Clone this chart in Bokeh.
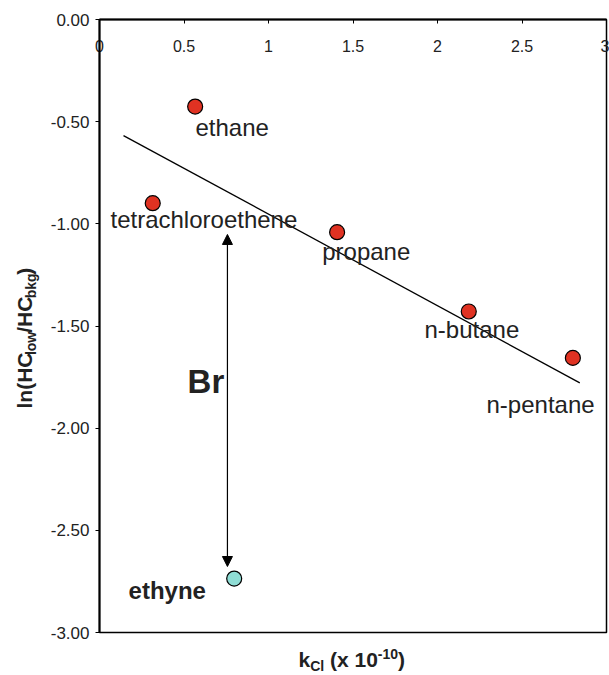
from bokeh.plotting import figure
from bokeh.layouts import row, column
from bokeh.models import Range1d, Label, Arrow, NormalHead, FixedTicker, NumeralTickFormatter, CustomJSTickFormatter
from bokeh.embed import file_html
from bokeh.resources import INLINE

# ---- data ----
compounds = ["ethane", "tetrachloroethene", "propane", "n-butane", "n-pentane", "ethyne"]
k_cl = [0.566, 0.315, 1.406, 2.185, 2.801, 0.797]
ln_ratio = [-0.426, -0.899, -1.041, -1.429, -1.656, -2.736]
fit_x = [0.142, 2.842]
fit_y = [-0.568, -1.778]
br_x = 0.757
br_y = [-1.052, -2.677]
x_ticks = [0, 0.5, 1, 1.5, 2, 2.5, 3]
y_ticks = [0, -0.5, -1, -1.5, -2, -2.5, -3]

# ---- layout (label anchors) ----
label_x = [0.568, 0.065, 1.318, 1.923, 2.290, 0.172]
label_y = [-0.529, -0.980, -1.137, -1.519, -1.886, -2.795]
label_bold = [False, False, False, False, False, True]

FONT = "Liberation Sans"
RED = "#E03222"
CYAN = "#8FDDD5"
TXT = "#222222"
BASE_FIX = 0.35  # baseline correction factor (fraction of font size)

MAIN_H = 643
p = figure(width=569, height=MAIN_H, x_range=Range1d(0, 3), y_range=Range1d(-3, 0),
           x_axis_location="above", output_backend="svg", toolbar_location=None,
           min_border_left=59, min_border_right=3, min_border_top=19,
           min_border_bottom=MAIN_H - 632)
p.background_fill_color = "white"
p.border_fill_color = "white"
p.xgrid.visible = False
p.ygrid.visible = False
p.outline_line_color = "black"
p.outline_line_width = 1.5

xa = p.xaxis[0]
xa.ticker = FixedTicker(ticks=x_ticks)
xa.formatter = CustomJSTickFormatter(code="return tick.toString();")
xa.major_tick_in = 4
xa.major_tick_out = 0
xa.minor_tick_line_color = None
xa.major_label_standoff = -32
xa.axis_line_width = 2
xa.major_label_text_font = FONT
xa.major_label_text_font_size = "16px"
xa.major_label_text_color = TXT

ya = p.yaxis[0]
ya.ticker = FixedTicker(ticks=y_ticks)
ya.formatter = NumeralTickFormatter(format="0.00")
ya.major_tick_in = 0
ya.major_tick_out = 4
ya.minor_tick_line_color = None
ya.major_label_standoff = 6
ya.axis_line_width = 2
ya.major_label_text_font = FONT
ya.major_label_text_font_size = "17px"
ya.major_label_text_color = TXT

# regression line
p.line(fit_x, fit_y, line_color="black", line_width=1.3)

# arrow "Br"
p.add_layout(Arrow(start=NormalHead(size=10, fill_color="black", line_color="black"),
                   end=NormalHead(size=10, fill_color="black", line_color="black"),
                   x_start=br_x, y_start=br_y[1], x_end=br_x, y_end=br_y[0],
                   line_color="black", line_width=1.2))
p.add_layout(Label(x=0.521, y=-1.771, text="Br", text_font=FONT, text_font_size="33px",
                   text_font_style="bold", text_color=TXT, text_baseline="alphabetic"))

# points
colors = [RED] * 5 + [CYAN]
p.scatter(k_cl, ln_ratio, size=15, fill_color=colors, line_color="black", line_width=1.2)

# compound labels
for nm, lx, ly, b in zip(compounds, label_x, label_y, label_bold):
    p.add_layout(Label(x=lx, y=ly, text=nm, text_font=FONT, text_font_size="24px",
                       text_font_style="bold" if b else "normal", text_color=TXT,
                       text_baseline="alphabetic", text_align="left"))

# Arial/Liberation Sans Bold advance widths (per 1000 em)
W = {"k": 556, "C": 722, "l": 278, " ": 278, "(": 333, "x": 556, "1": 556, "0": 556,
     "-": 333, ")": 333, "n": 611, "H": 722, "/": 278, "o": 611, "w": 778, "b": 611, "g": 611}

def width(s, px):
    return sum(W[c] for c in s) * px / 1000.0

def blank(w, h, xr, yr):
    f = figure(width=w, height=h, x_range=xr, y_range=yr, x_axis_type=None, y_axis_type=None,
               output_backend="svg", toolbar_location=None, min_border=0,
               min_border_left=0, min_border_right=0, min_border_top=0, min_border_bottom=0)
    f.outline_line_color = None
    f.background_fill_color = "white"
    f.border_fill_color = "white"
    return f

# x-axis title panel (coordinates = page pixels), spans whole page width
xf = blank(609, 675 - MAIN_H, Range1d(0, 609), Range1d(675, MAIN_H))
# (text, font px, baseline shift px, gap before px)
xl_pieces = [("k", 21, 0, 0), ("Cl", 14, 4, 0), ("(x 10", 21, 0, width(" ", 21)),
             ("-10", 14, -8, 0), (")", 21, 0, 0)]
pos = 298.0
base_y = 666.5
for s, fs, dy, gap in xl_pieces:
    pos += gap
    xf.add_layout(Label(x=pos, y=base_y + dy - BASE_FIX * fs, text=s, text_font=FONT,
                        text_font_size=f"{fs}px", text_font_style="bold", text_color=TXT,
                        text_baseline="alphabetic", text_align="left"))
    pos += width(s, fs)

# y-axis title panel, rotated text (coordinates = page pixels)
yf = blank(40, MAIN_H, Range1d(0, 40), Range1d(MAIN_H, 0))
yl_pieces = [("ln(HC", 21, 0), ("low", 14, 3.5), ("/HC", 21, 0), ("bkg", 14, 3.5), (")", 21, 0)]
pos = 408.0
base_x = 31.5
for s, fs, dx in yl_pieces:
    yf.add_layout(Label(x=base_x + dx - BASE_FIX * fs, y=pos, angle=1.5707963,
                        text=s, text_font=FONT, text_font_size=f"{fs}px", text_font_style="bold",
                        text_color=TXT, text_baseline="alphabetic", text_align="left"))
    pos -= width(s, fs)

layout = column(row(yf, p), xf)
open("out.html", "w").write(file_html(layout, INLINE))
